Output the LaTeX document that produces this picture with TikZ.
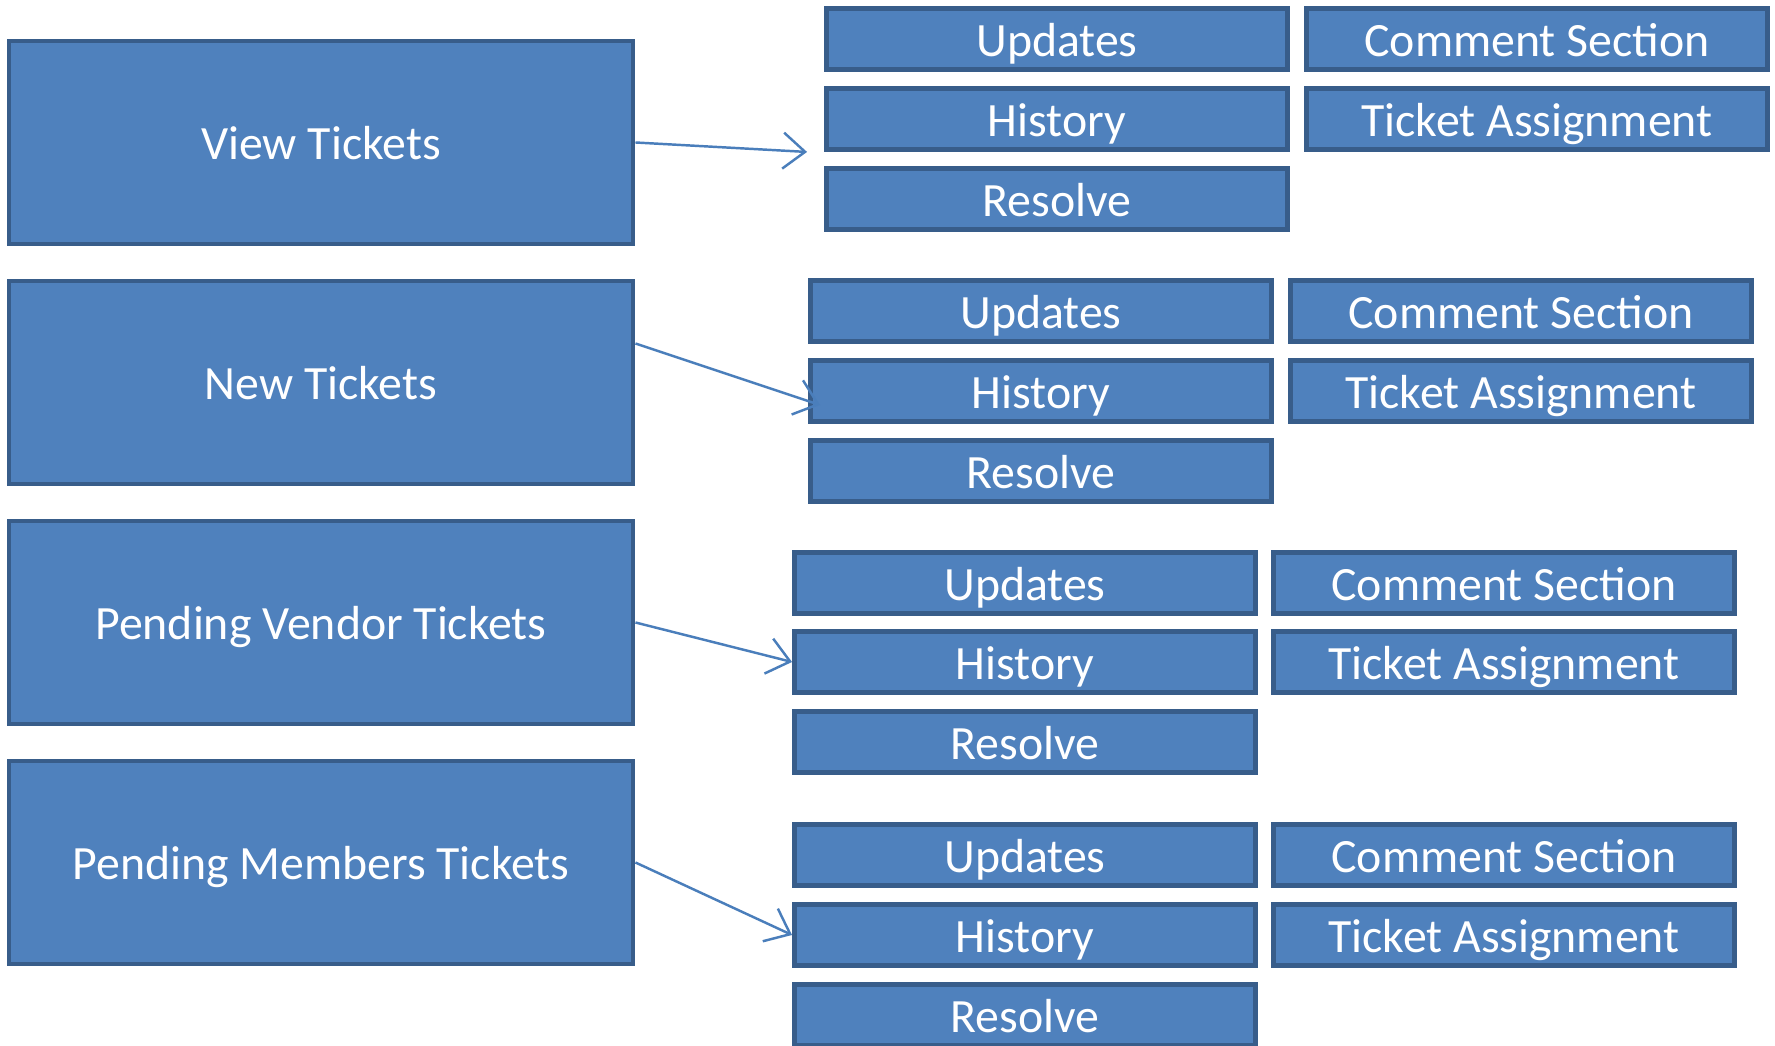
\documentclass[tikz,border=0pt]{standalone}
\usepackage{fontspec}
\setmainfont{Carlito}
\usetikzlibrary{arrows.meta}
\definecolor{boxfill}{HTML}{4F81BD}
\definecolor{boxline}{HTML}{385D8A}
\definecolor{arrline}{HTML}{4A7EBB}
\tikzset{
    mainbox/.style={draw=boxline, fill=boxfill, line width=1.4pt, minimum width=6.24cm, minimum height=2.03cm, text height=0.35cm, text depth=0pt, text=white, font=\fontsize{13.6}{16}\selectfont},
    subbox/.style={draw=boxline, fill=boxfill, line width=1.4pt, minimum width=4.61cm, minimum height=0.61cm, inner sep=0pt, text height=0.35cm, text depth=0pt, text=white, font=\fontsize{13.6}{16}\selectfont},
    arr/.style={-{Straight Barb[length=2.2mm, width=3.6mm]}, draw=arrline, line width=0.7pt}
}
\begin{document}
\begin{tikzpicture}
        \useasboundingbox (0, 0) rectangle (17.75, -10.46);
        % left column
        \node[mainbox] (vt) at (3.21, -1.425) {View Tickets};
        \node[mainbox] (nt) at (3.21, -3.825) {New Tickets};
        \node[mainbox] (pv) at (3.21, -6.225) {Pending Vendor Tickets};
        \node[mainbox] (pm) at (3.21, -8.625) {Pending Members Tickets};
        % view tickets
        \node[subbox] (u1) at (10.57, -0.39) {Updates};
        \node[subbox] (c1) at (15.37, -0.39) {Comment Section};
        \node[subbox] (h1) at (10.57, -1.19) {History};
        \node[subbox] (a1) at (15.37, -1.19) {Ticket Assignment};
        \node[subbox] (r1) at (10.57, -1.99) {Resolve};
        % new tickets
        \node[subbox] (u2) at (10.41, -3.11) {Updates};
        \node[subbox] (c2) at (15.21, -3.11) {Comment Section};
        \node[subbox] (h2) at (10.41, -3.91) {History};
        \node[subbox] (a2) at (15.21, -3.91) {Ticket Assignment};
        \node[subbox] (r2) at (10.41, -4.71) {Resolve};
        % pending vendor tickets
        \node[subbox] (u3) at (10.25, -5.83) {Updates};
        \node[subbox] (c3) at (15.04, -5.83) {Comment Section};
        \node[subbox] (h3) at (10.25, -6.62) {History};
        \node[subbox] (a3) at (15.04, -6.62) {Ticket Assignment};
        \node[subbox] (r3) at (10.25, -7.42) {Resolve};
        % pending members tickets
        \node[subbox] (u4) at (10.25, -8.55) {Updates};
        \node[subbox] (c4) at (15.04, -8.55) {Comment Section};
        \node[subbox] (h4) at (10.25, -9.35) {History};
        \node[subbox] (a4) at (15.04, -9.35) {Ticket Assignment};
        \node[subbox] (r4) at (10.25, -10.15) {Resolve};
        % arrows
        \draw[arr] (vt.east) -- ([xshift=-1.7mm]h1.south west);
        \draw[arr] ([yshift=3.9mm]nt.east) -- ([xshift=1.2mm, yshift=-1.4mm]h2.west);
        \draw[arr] (pv.east) -- (h3.west);
        \draw[arr] (pm.east) -- (h4.west);
\end{tikzpicture}
\end{document}
